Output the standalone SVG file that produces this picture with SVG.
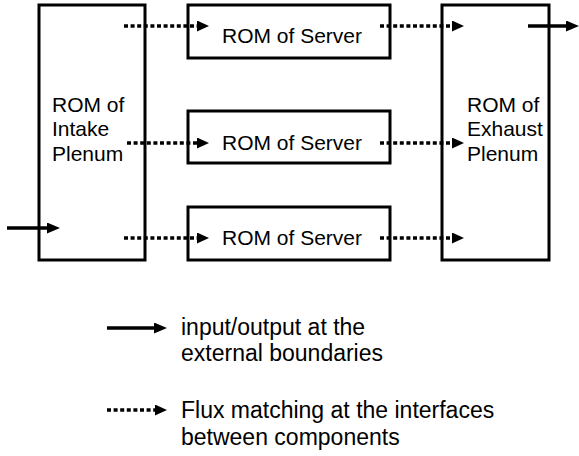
<svg xmlns="http://www.w3.org/2000/svg" width="579" height="456" viewBox="0 0 579 456">
<style>
.box{fill:#fff;stroke:#000;stroke-width:3}
.t{font-family:"Liberation Sans",Arial,sans-serif;font-size:21px;fill:#000}
.lg{font-family:"Liberation Sans",Arial,sans-serif;font-size:23px;fill:#000}
.solid{stroke:#000;stroke-width:3.5;fill:none}
.dot{stroke:#000;stroke-width:3.5;stroke-dasharray:4 2.6;fill:none}
</style>
<defs>
<marker id="ah" markerWidth="12" markerHeight="11" refX="0" refY="5.5" orient="auto" markerUnits="userSpaceOnUse">
<path d="M0,0 L12,5.5 L0,11 Z" fill="#000"/>
</marker>
<marker id="ahs" markerWidth="13" markerHeight="11" refX="0" refY="5.5" orient="auto" markerUnits="userSpaceOnUse">
<path d="M0,0 L13,5.5 L0,11 Z" fill="#000"/>
</marker>
</defs>
<g id="intake">
<rect class="box" x="39" y="5" width="106" height="255"/>
<text class="t" x="52" y="111.5">ROM of</text>
<text class="t" x="52" y="136">Intake</text>
<text class="t" x="52" y="160.5">Plenum</text>
</g>
<g id="server1">
<rect class="box" x="188" y="5" width="202" height="53"/>
<text class="t" x="292" y="42.5" text-anchor="middle">ROM of Server</text>
</g>
<g id="server2">
<rect class="box" x="188" y="111" width="202" height="52"/>
<text class="t" x="292" y="150" text-anchor="middle">ROM of Server</text>
</g>
<g id="server3">
<rect class="box" x="188" y="207" width="202" height="53"/>
<text class="t" x="292" y="245" text-anchor="middle">ROM of Server</text>
</g>
<g id="exhaust">
<rect class="box" x="442" y="5" width="107" height="255"/>
<text class="t" x="467" y="111.5">ROM of</text>
<text class="t" x="467" y="136">Exhaust</text>
<text class="t" x="467" y="160.5">Plenum</text>
</g>
<g id="connectors">
<line class="dot" x1="124" y1="26" x2="197" y2="26" marker-end="url(#ah)"/>
<line class="dot" x1="127" y1="143" x2="197" y2="143" marker-end="url(#ah)"/>
<line class="dot" x1="124" y1="238" x2="197" y2="238" marker-end="url(#ah)"/>
<line class="dot" x1="380" y1="26" x2="452" y2="26" marker-end="url(#ah)"/>
<line class="dot" x1="380" y1="143" x2="452" y2="143" marker-end="url(#ah)"/>
<line class="dot" x1="380" y1="238" x2="452" y2="238" marker-end="url(#ah)"/>
<line class="solid" x1="528" y1="26" x2="566" y2="26" marker-end="url(#ahs)"/>
<line class="solid" x1="7" y1="228" x2="47" y2="228" marker-end="url(#ahs)"/>
</g>
<g id="legend">
<line class="solid" x1="107" y1="328" x2="154" y2="328" marker-end="url(#ahs)"/>
<text class="lg" x="181" y="335">input/output at the</text>
<text class="lg" x="181" y="361">external boundaries</text>
<line class="dot" x1="107" y1="410" x2="155" y2="410" marker-end="url(#ah)"/>
<text class="lg" x="181" y="418">Flux matching at the interfaces</text>
<text class="lg" x="181" y="445">between components</text>
</g>
</svg>
